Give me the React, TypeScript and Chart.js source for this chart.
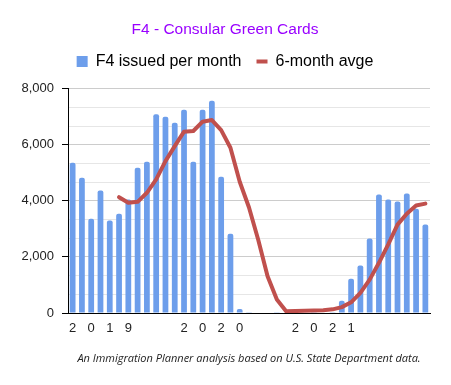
import React, { useEffect, useRef } from "react";
import { Chart, registerables } from "chart.js";

Chart.register(...registerables);

// Jan 2019 .. Mar 2022 (39 months); only the spaced-out year characters are shown
const categories: string[] = [
  "2", "", "0", "", "1", "", "9", "", "", "", "", "",
  "2", "", "0", "", "2", "", "0", "", "", "", "", "",
  "2", "", "0", "", "2", "", "1", "", "", "", "", "",
  "", "", "",
];

const issuedPerMonth: number[] = [
  5357, 4821, 3357, 4368, 3296, 3536, 4047, 5179, 5393, 7083, 7000, 6786,
  7250, 5393, 7250, 7571, 4857, 2821, 143, 10, 0, 15, 10, 0,
  10, 15, 10, 20, 30, 440, 1225, 1690, 2654, 4225, 4046, 3975,
  4261, 3714, 3154,
];

const sixMonthAvg: (number | null)[] = [
  null, null, null, null, null, 4129, 3929, 3964, 4286, 4761, 5414, 5950,
  6464, 6488, 6821, 6879, 6521, 5893, 4680, 3760, 2600, 1310, 480, 60,
  70, 80, 90, 100, 130, 210, 380, 720, 1190, 1790, 2450, 3150,
  3540, 3830, 3900,
];

const yMax = 8000;
const yMajorStep = 2000;
const yTickCount = 13;

const TITLE = "F4 - Consular Green Cards";
const BAR_LABEL = "F4 issued per month";
const LINE_LABEL = "6-month avge";
const FOOTER = "An Immigration Planner analysis based on U.S. State Department data.";

const BLUE = "#6d9eeb";
const RED = "#c0504d";
const FONT = "'Liberation Sans', Arial, sans-serif";

const isMajor = (v: number) => Math.abs(v / yMajorStep - Math.round(v / yMajorStep)) < 1e-6;

const footerPlugin = {
  id: "footerText",
  afterDraw(chart: any) {
    const { ctx, chartArea } = chart;
    ctx.save();
    ctx.font = "italic 11px 'Open Sans', sans-serif";
    ctx.fillStyle = "#222";
    ctx.textAlign = "center";
    ctx.textBaseline = "middle";
    ctx.fillText(FOOTER, (chartArea.left + chartArea.right) / 2, chartArea.bottom + 46);
    ctx.restore();
  },
};

export default function App() {
  const ref = useRef<HTMLCanvasElement | null>(null);

  useEffect(() => {
    document.body.style.margin = "0";
    if (!ref.current) return;
    const chart = new Chart(ref.current, {
      type: "bar",
      data: {
        labels: categories,
        datasets: [
          {
            type: "line",
            label: LINE_LABEL,
            data: sixMonthAvg,
            borderColor: RED,
            backgroundColor: RED,
            borderWidth: 4,
            pointRadius: 0,
            tension: 0,
            borderJoinStyle: "round",
            borderCapStyle: "round",
            spanGaps: false,
            order: 0,
          } as any,
          {
            type: "bar",
            label: BAR_LABEL,
            data: issuedPerMonth,
            backgroundColor: BLUE,
            borderWidth: 0,
            borderRadius: 2,
            borderSkipped: "bottom",
            categoryPercentage: 1,
            barPercentage: 0.62,
            order: 1,
          } as any,
        ],
      },
      options: {
        responsive: false,
        animation: false,
        layout: { padding: { left: 20, right: 21, top: 0, bottom: 42 } },
        plugins: {
          title: {
            display: true,
            text: TITLE,
            color: "#9900ff",
            font: { family: FONT, size: 15.5, weight: "normal" },
            padding: { top: 20, bottom: 0 },
          },
          subtitle: {
            display: true,
            text: "",
            weight: 500,
            font: { size: 1, lineHeight: 1 },
            padding: { top: 8, bottom: 0 },
          } as any,
          legend: {
            display: true,
            position: "top",
            weight: 1000,
            labels: {
              font: { family: FONT, size: 16 },
              color: "#222",
              usePointStyle: true,
              boxWidth: 11,
              boxHeight: 11,
              pointStyleWidth: 11,
              padding: 15,
              generateLabels: () => [
                {
                  text: BAR_LABEL,
                  fillStyle: BLUE,
                  strokeStyle: BLUE,
                  lineWidth: 0,
                  pointStyle: "rect",
                  datasetIndex: 1,
                  hidden: false,
                },
                {
                  text: LINE_LABEL,
                  fillStyle: RED,
                  strokeStyle: RED,
                  lineWidth: 4,
                  pointStyle: "line",
                  datasetIndex: 0,
                  hidden: false,
                },
              ],
            },
          } as any,
          tooltip: { enabled: false },
        },
        scales: {
          x: {
            grid: { display: false, drawTicks: false },
            border: { display: true, color: "#000", width: 1 },
            ticks: {
              autoSkip: false,
              maxRotation: 0,
              minRotation: 0,
              color: "#222",
              font: { family: FONT, size: 13 },
              padding: 8,
            },
            afterFit: (s: any) => {
              s.height = 30;
            },
          },
          y: {
            min: 0,
            max: yMax,
            ticks: {
              count: yTickCount,
              autoSkip: false,
              color: "#222",
              font: { family: FONT, size: 13 },
              padding: 8,
              callback: (v: any) => (isMajor(Number(v)) ? Number(v).toLocaleString("en-US") : ""),
            },
            grid: {
              color: (c: any) => {
                const v = c.tick ? c.tick.value : 0;
                if (Math.abs(v) < 1e-6) return "rgba(0,0,0,0)";
                return isMajor(v) ? "#cccccc" : "#e6e6e6";
              },
              tickColor: (c: any) => {
                const v = c.tick ? c.tick.value : 0;
                return isMajor(v) ? "#000" : "rgba(0,0,0,0)";
              },
              tickLength: 6,
            },
            border: { display: true, color: "#000", width: 1 },
            afterFit: (s: any) => {
              s.width = 48;
            },
          },
        },
      },
      plugins: [footerPlugin],
    });
    return () => chart.destroy();
  }, []);

  return <canvas ref={ref} width={451} height={385} style={{ display: "block" }} />;
}
